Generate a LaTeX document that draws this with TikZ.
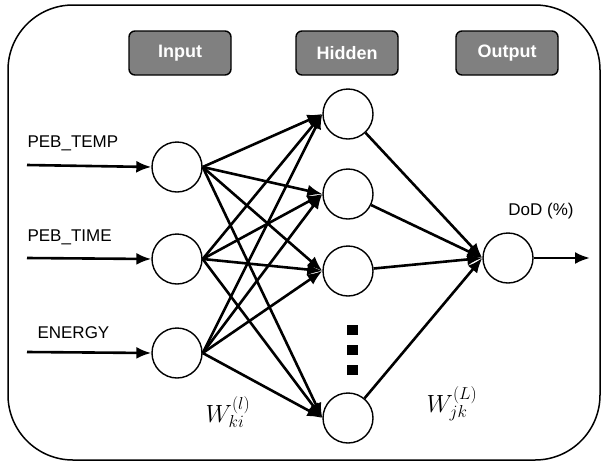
\documentclass[tikz,border=0pt]{standalone}
\usepackage{fontspec}
\setmainfont{Liberation Sans}
\usetikzlibrary{arrows.meta,positioning}

\begin{document}
\begin{tikzpicture}[
        x=1pt, y=-1pt,
        font=\fontsize{17}{19}\selectfont,
        neuron/.style={draw, circle, line width=1.4pt, minimum size=50pt, inner sep=0pt},
        hdr/.style={draw, rounded corners=6pt, line width=1.4pt, fill=black!50, text=white, font=\fontsize{18}{20}\selectfont\bfseries, minimum width=102pt, minimum height=44pt},
        link/.style={-{Latex[length=15pt,width=12pt]}, line width=2.6pt},
        wlabel/.style={font=\fontsize{23}{25}\selectfont}
    ]
        \useasboundingbox (0,0) rectangle (608,464);
        \draw[line width=1.5pt, rounded corners=65pt] (8,5) rectangle (600,460);

        % headers
        \node[hdr] (hdrin) at (180,53) {Input};
        \node[hdr] (hdrhid) at (347,53) {Hidden};
        \node[hdr] (hdrout) at (507,53) {Output};

        % neurons
        \node[neuron] (in1) at (177,167) {};
        \node[neuron] (in2) at (177,259) {};
        \node[neuron] (in3) at (177,353) {};
        \node[neuron] (hid1) at (348,114) {};
        \node[neuron] (hid2) at (348,194) {};
        \node[neuron] (hid3) at (348,271) {};
        \node[neuron] (hid4) at (348,418) {};
        \node[neuron] (out) at (508,258) {};

        % inputs
        \coordinate (src1) at (27,165);
        \coordinate (src2) at (27,258);
        \coordinate (src3) at (27,352);
        \coordinate (dst) at (590,258);
        \node[anchor=west] (lbl1) at (24,143) {PEB\_TEMP};
        \node[anchor=west] (lbl2) at (24,237) {PEB\_TIME};
        \node[anchor=west] (lbl3) at (34,333) {ENERGY};
        \node (lblout) at (541,211) {DoD (\%)};

        \foreach \i in {1,2,3} {
            \draw[link] (src\i) -- (in\i.west);
            \foreach \j in {1,2,3,4}
                \draw[link] (in\i.east) -- (hid\j.west);
        }
        \foreach \j in {1,2,3,4}
            \draw[link] (hid\j) -- (out.west);
        \draw[link] (out.east) -- (dst);

        % dots
        \foreach \y in {325,345,365}
            \fill (347,\y) rectangle ++(11,10);

        % weights
        \node[wlabel] (wi) at (228,412) {$W^{(l)}_{ki}$};
        \node[wlabel] (wo) at (452,404) {$W^{(L)}_{jk}$};
    \end{tikzpicture}
\end{document}
